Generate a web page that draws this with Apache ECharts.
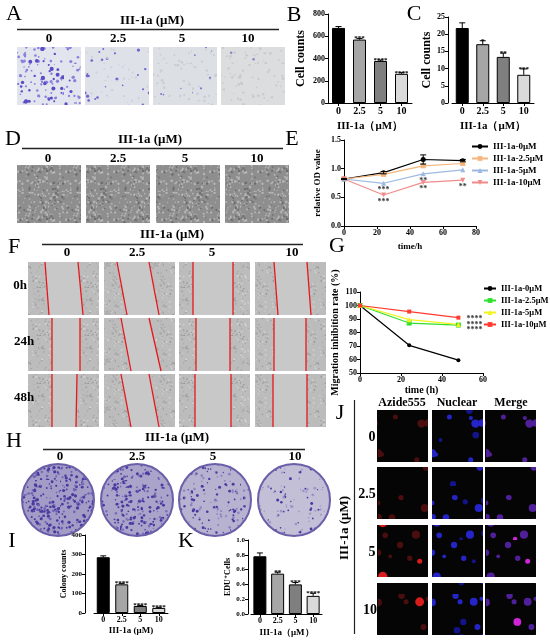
<!DOCTYPE html>
<html>
<head>
<meta charset="utf-8">
<script src="https://cdn.jsdelivr.net/npm/echarts@6/dist/echarts.min.js"></script>
<style>
  html, body { margin: 0; padding: 0; background: #fff; }
  #fig { width: 550px; height: 640px; }
</style>
</head>
<body>
<div id="fig"></div>
<script>
// values
const doses = ['0', '2.5', '5', '10'];
const cellsB = [675, 570, 378, 262];
const errB = [12, 9, 8, 10];
const starsB = ['', '***', '****', '****'];
const cellsC = [21.8, 17.1, 13.4, 8.2];
const errC = [1.5, 1.0, 1.1, 1.7];
const starsC = ['', '*', '**', '***'];

const timeE = [0, 24, 48, 72];
const odE0 = [0.82, 0.93, 1.16, 1.14];
const odE25 = [0.82, 0.90, 1.05, 1.09];
const odE5 = [0.82, 0.745, 0.91, 0.98];
const odE10 = [0.82, 0.54, 0.76, 0.80];
const errE0 = [0.01, 0.02, 0.08, 0.02];
const starsE5 = ['', '***', '**', ''];
const starsE10 = ['', '***', '**', '**'];
const legendE = ['III-1a-0μM', 'III-1a-2.5μM', 'III-1a-5μM', 'III-1a-10μM'];

const timeG = [0, 24, 48];
const migG0 = [100, 70.5, 59.5];
const migG25 = [100, 87, 85.5];
const migG5 = [100, 89.5, 86];
const migG10 = [100, 95.5, 91];
const starsG = ['****', '****', '****'];
const starsGAt = [91, 86.5, 83];
// trailing space keeps the G legend apart from the E legend
const legendG = ['III-1a-0μM ', 'III-1a-2.5μM ', 'III-1a-5μM ', 'III-1a-10μM '];

const colonyI = [286, 147, 36, 26];
const errI = [7, 5, 3, 3];
const starsI = ['', '****', '****', '****'];
const eduK = [0.78, 0.545, 0.40, 0.245];
const errK = [0.045, 0.02, 0.025, 0.035];
const starsK = ['', '**', '***', '****'];

const serif = '"Liberation Serif","DejaVu Serif",serif';
const barFill = ['#000000', '#a6a6a6', '#7f7f7f', '#dadada'];
const colE = ['#000000', '#f5b57c', '#9db8e2', '#f28b8b'];
const colG = ['#000000', '#2fe02f', '#f2f21e', '#ff3b30'];

// little textures standing in for the photos
function tile(size, bg, seed, dots) {
  const c = document.createElement('canvas');
  c.width = c.height = size;
  const g = c.getContext('2d');
  g.fillStyle = bg;
  g.fillRect(0, 0, size, size);
  let s = seed;
  const next = () => (s = (s * 16807) % 2147483647) / 2147483647;
  for (const [col, n, r] of dots) {
    g.fillStyle = col;
    for (let i = 0; i < n; i++) {
      g.beginPath();
      g.arc(next() * size, next() * size, r * (0.6 + next() * 0.8), 0, Math.PI * 2);
      g.fill();
    }
  }
  return { image: c, repeat: 'repeat' };
}

const T = (x, y, text, size, o = {}) => ({
  type: 'text', x, y, rotation: o.rot || 0, z: 10,
  style: { text, font: `${o.w || 'bold'} ${size}px ${serif}`, fill: o.fill || '#000',
    align: o.align || 'center', verticalAlign: 'middle' }
});
const L = (x1, y1, x2, y2, stroke = '#000', w = 1) => ({
  type: 'line', z: 10, shape: { x1, y1, x2, y2 }, style: { stroke, lineWidth: w }
});
const R = (x, y, w, h, fill) => ({ type: 'rect', shape: { x, y, width: w, height: h }, style: { fill } });

const deco = [];
// panel letters
[['A', 14, 14], ['B', 294, 15], ['C', 414, 14], ['D', 13, 139], ['E', 292, 139], ['F', 14, 247],
 ['G', 337, 246], ['H', 14, 441], ['I', 12, 541], ['K', 186, 541], ['J', 340, 413]]
  .forEach(([t, x, y]) => deco.push(T(x, y, t, 22, { w: 'normal' })));

// A: transwell photos
const pA = [
  tile(64, '#e2e4ee', 3, [['#8a80dc', 90, 1.2], ['#5a4cc4', 30, 1.6]]),
  tile(64, '#dfe1e9', 5, [['#7066d0', 26, 1.2], ['#cfd2dc', 40, 1]]),
  tile(64, '#dcdfe4', 11, [['#7a74d0', 9, 1.0], ['#c9ccd3', 60, 1]]),
  tile(64, '#dbdddf', 13, [['#8a86c8', 3, 1], ['#c8cacc', 80, 1]])
];
deco.push(T(152, 21, 'III-1a (μM)', 13), L(17, 29.5, 279, 29.5, '#222', 1.4));
[[49, 17], [118, 85], [182, 153], [248, 221]].forEach(([lx, ix], i) => {
  deco.push(T(lx, 39, doses[i], 13), R(ix, 47, 64, 58, pA[i]));
});

// D: monolayer photos
const pD = tile(48, '#8e8e8e', 17, [['#b4b4b4', 130, 1], ['#6c6c6c', 70, 0.9]]);
deco.push(T(150, 140, 'III-1a (μM)', 13), L(22, 148.5, 283, 148.5, '#222', 1.4));
[[48, 17], [118, 86], [185, 156], [257, 225]].forEach(([lx, ix], i) => {
  deco.push(T(lx, 159, doses[i], 13), R(ix, 165, 64, 58, pD));
});

// F: scratch wound photos with red wound edges
const pF = tile(48, '#bcbcbc', 19, [['#a2a2a2', 110, 0.7], ['#d2d2d2', 70, 0.7], ['#8a8a8a', 20, 0.6]]);
deco.push(T(172, 235, 'III-1a (μM)', 13), L(42, 244.5, 303, 244.5, '#222', 1.4));
const colF = [28, 104, 179, 255];
const rowF = [262, 318, 374];
[67, 137, 212, 292].forEach((x, i) => deco.push(T(x, 253, doses[i], 13)));
[['0h', 20], ['24h', 24], ['48h', 24]].forEach(([t, x], r) => deco.push(T(x, rowF[r] + 24, t, 13)));
const edges = [
  [[45, 49, 78, 83], [117, 127, 149, 159], [193, 193, 233, 233], [274, 278, 307, 311]],
  [[52, 52, 80, 80], [121, 131, 149, 161], [196, 196, 230, 230], [274, 274, 306, 306]],
  [[52, 52, 77, 76], [121, 131, 149, 159], [195, 195, 231, 231], [273, 273, 307, 307]]
];
rowF.forEach((y, r) => colF.forEach((x, c) => {
  const [a, b, d, e] = edges[r][c];
  deco.push(R(x, y, 71, 53, pF));
  deco.push({ type: 'polygon', shape: { points: [[a, y], [d, y], [e, y + 53], [b, y + 53]] },
    style: { fill: '#c8c8c8' } });
  deco.push(L(a, y, b, y + 53, '#e8161b', 1.3), L(d, y, e, y + 53, '#e8161b', 1.3));
}));

// H: colony plates
const pH = [
  tile(60, '#a39cc6', 23, [['#4a3aa0', 150, 1.2], ['#6f62b4', 80, 1]]),
  tile(60, '#aaa4ca', 29, [['#4a3aa0', 130, 1.2], ['#7a6eb8', 60, 1]]),
  tile(60, '#b6b2d0', 31, [['#4a3aa0', 60, 1.1], ['#8c84c0', 50, 1]]),
  tile(60, '#c2bfd6', 37, [['#4a3aa0', 32, 1.1], ['#9c95c8', 40, 1]])
];
deco.push(T(177, 438, 'III-1a (μM)', 13), L(43, 449.5, 305, 449.5, '#222', 1.4));
[[60, 58], [137, 137], [213, 215], [295, 294]].forEach(([lx, cx], i) => {
  deco.push(T(lx, 457, doses[i], 13));
  deco.push({ type: 'circle', shape: { cx, cy: 500, r: 36 },
    style: { fill: pH[i], stroke: '#6a5fa8', lineWidth: 2 } });
});

// J: fluorescence photos
deco.push(L(354.5, 400, 354.5, 634, '#222', 1.2));
deco.push(T(345, 528, 'III-1a (μM)', 13, { rot: Math.PI / 2 }));
[['Azide555', 402], ['Nuclear', 457], ['Merge', 511]].forEach(([t, x]) => deco.push(T(x, 403, t, 12)));
const colJ = [377, 432, 485];
const rowJ = [410, 467, 525, 583];
const jx = [372, 367, 372, 370];
rowJ.forEach((y, r) => {
  deco.push(T(jx[r], y + 27, doses[r], 14));
  const seed = 41 + r * 7;
  const bright = [0, 0, 2, 1][r];
  const pats = [
    tile(54, '#050505', seed, [['#4a0e0e', 6, 3], ['#d81c1c', bright, 3.4]]),
    tile(54, '#050505', seed, [['#2424c8', 7, 3], ['#14148a', 3, 2.8]]),
    tile(54, '#050505', seed, [['#50209a', 7, 3], ['#d024d8', bright, 3.4]])
  ];
  colJ.forEach((x, c) => deco.push(R(x, y, 51, 52, pats[c])));
});

// helpers for the charts
const axLine = { show: true, lineStyle: { color: '#000', width: 1 } };
const tick = { show: true, length: 3, lineStyle: { color: '#000' } };
const lab8 = (sz, fmt) => ({ fontSize: sz, fontFamily: serif, fontWeight: 'bold', color: '#000', margin: 3, formatter: fmt });
function catX(grid, name, nameGap, labSize, nameSize) {
  return { type: 'category', gridIndex: grid, data: doses, axisLine: axLine,
    axisTick: Object.assign({ alignWithLabel: true }, tick), axisLabel: lab8(labSize),
    name, nameLocation: 'middle', nameGap,
    nameTextStyle: { fontSize: nameSize, fontFamily: serif, fontWeight: 'bold', color: '#000' } };
}
function valAx(grid, min, max, interval, name, nameGap, labSize, nameSize, extra) {
  return Object.assign({ type: 'value', gridIndex: grid, min, max, interval,
    axisLine: axLine, axisTick: tick, splitLine: { show: false }, axisLabel: lab8(labSize),
    name, nameLocation: 'middle', nameGap,
    nameTextStyle: { fontSize: nameSize, fontFamily: serif, fontWeight: 'bold', color: '#000' } }, extra || {});
}
function bars(ax, vals) {
  return { type: 'bar', xAxisIndex: ax, yAxisIndex: ax, data: vals, barWidth: 13,
    itemStyle: { color: p => barFill[p.dataIndex], borderColor: '#000', borderWidth: 1 } };
}
function errStars(ax, vals, errs, stars, fs) {
  return {
    type: 'custom', xAxisIndex: ax, yAxisIndex: ax, z: 5, silent: true,
    data: vals.map((v, i) => [i, v, errs[i]]),
    renderItem(params, api) {
      const i = api.value(0), v = api.value(1), e = api.value(2);
      const a = api.coord([i, v]), b = api.coord([i, v + e]);
      return { type: 'group', children: [
        { type: 'line', shape: { x1: a[0], y1: a[1], x2: b[0], y2: b[1] }, style: { stroke: '#000', lineWidth: 1 } },
        { type: 'line', shape: { x1: b[0] - 3, y1: b[1], x2: b[0] + 3, y2: b[1] }, style: { stroke: '#000', lineWidth: 1 } },
        { type: 'text', x: b[0], y: b[1], style: { text: stars[params.dataIndex], font: `bold ${fs}px ${serif}`,
          fill: '#000', align: 'center', verticalAlign: 'middle' } }
      ] };
    }
  };
}
function lineSeries(ax, name, xs, ys, color, symbol, size, rot) {
  return { type: 'line', name, xAxisIndex: ax, yAxisIndex: ax, data: xs.map((t, i) => [t, ys[i]]),
    symbol, symbolSize: size, symbolRotate: rot || 0, color,
    lineStyle: { color, width: 1.2 }, itemStyle: { color } };
}
function starText(ax, xs, ys, stars, dx, dy, align) {
  return {
    type: 'custom', xAxisIndex: ax, yAxisIndex: ax, z: 6, silent: true,
    data: xs.map((t, i) => [t, ys[i]]),
    renderItem(params, api) {
      const p = api.coord([api.value(0), api.value(1)]);
      return { type: 'text', x: p[0] + dx, y: p[1] + dy, style: { text: stars[params.dataIndex],
        font: `bold 8px ${serif}`, fill: '#333', align, verticalAlign: 'middle' } };
    }
  };
}

const chart = echarts.init(document.getElementById('fig'), null, { renderer: 'canvas' });
chart.setOption({
  backgroundColor: '#fff',
  animation: false,
  textStyle: { fontFamily: serif },
  grid: [
    { left: 328, top: 14, width: 84, height: 89, containLabel: false },
    { left: 452, top: 17, width: 82, height: 86, containLabel: false },
    { left: 344, top: 140, width: 132, height: 86, containLabel: false },
    { left: 360, top: 292, width: 123, height: 81, containLabel: false },
    { left: 94, top: 535, width: 74, height: 78, containLabel: false },
    { left: 251, top: 540, width: 71, height: 74, containLabel: false }
  ],
  xAxis: [
    catX(0, 'III-1a（μM）', 18, 10, 11),
    catX(1, 'III-1a（μM）', 18, 10, 11),
    valAx(2, 0, 80, 20, 'time/h', 16, 8, 9),
    valAx(3, 0, 60, 20, 'time (h)', 12, 8, 10),
    catX(4, 'III-1a (μM)', 13, 8, 9),
    catX(5, 'III-1a（μM）', 14, 8, 9)
  ],
  yAxis: [
    valAx(0, 0, 800, 200, 'Cell counts', 21, 8, 12),
    valAx(1, 0, 25, 5, 'Cell counts', 14, 8, 12, { offset: 4 }),
    valAx(2, 0, 1.5, 0.5, 'relative OD value', 22, 8, 9, { axisLabel: lab8(8, v => v.toFixed(1)) }),
    valAx(3, 50, 110, 10, 'Migration inhibition rate (%)', 20, 8, 10),
    valAx(4, 0, 400, 100, 'Colony counts', 10, 7, 8, { offset: 9 }),
    valAx(5, 0, 1, 0.2, 'EDU⁺Cells', 14, 7, 8, { offset: 3, axisLabel: lab8(7, v => v.toFixed(1)) })
  ],
  legend: [
    { data: legendE, orient: 'vertical', left: 466, top: 137, itemGap: 3, itemWidth: 16, itemHeight: 6,
      textStyle: { fontSize: 9, fontWeight: 'bold', fontFamily: serif, color: '#000' } },
    { data: legendG, orient: 'vertical', left: 478, top: 279, itemGap: 3, itemWidth: 12, itemHeight: 6,
      textStyle: { fontSize: 8.5, fontWeight: 'bold', fontFamily: serif, color: '#000' } }
  ],
  series: [
    bars(0, cellsB), errStars(0, cellsB, errB, starsB, 7),
    bars(1, cellsC), errStars(1, cellsC, errC, starsC, 7),
    bars(4, colonyI), errStars(4, colonyI, errI, starsI, 7),
    bars(5, eduK), errStars(5, eduK, errK, starsK, 7),

    lineSeries(2, legendE[0], timeE, odE0, colE[0], 'circle', 5),
    lineSeries(2, legendE[1], timeE, odE25, colE[1], 'rect', 5),
    lineSeries(2, legendE[2], timeE, odE5, colE[2], 'triangle', 5),
    lineSeries(2, legendE[3], timeE, odE10, colE[3], 'triangle', 5, 180),
    {
      type: 'custom', xAxisIndex: 2, yAxisIndex: 2, z: 4, silent: true,
      data: timeE.map((t, i) => [t, odE0[i], errE0[i]]),
      renderItem(params, api) {
        const t = api.value(0), v = api.value(1), e = api.value(2);
        const a = api.coord([t, v - e]), b = api.coord([t, v + e]);
        return { type: 'group', children: [
          { type: 'line', shape: { x1: a[0], y1: a[1], x2: b[0], y2: b[1] }, style: { stroke: '#000', lineWidth: 1 } },
          { type: 'line', shape: { x1: b[0] - 3, y1: b[1], x2: b[0] + 3, y2: b[1] }, style: { stroke: '#000', lineWidth: 1 } },
          { type: 'line', shape: { x1: a[0] - 3, y1: a[1], x2: a[0] + 3, y2: a[1] }, style: { stroke: '#000', lineWidth: 1 } }
        ] };
      }
    },
    starText(2, timeE, odE5, starsE5, 0, 7, 'center'),
    starText(2, timeE, odE10, starsE10, 0, 7, 'center'),

    lineSeries(3, legendG[0], timeG, migG0, colG[0], 'circle', 4),
    lineSeries(3, legendG[1], timeG, migG25, colG[1], 'rect', 5),
    lineSeries(3, legendG[2], timeG, migG5, colG[2], 'triangle', 5),
    lineSeries(3, legendG[3], timeG, migG10, colG[3], 'rect', 4),
    starText(3, starsGAt.map(() => timeG[2]), starsGAt, starsG, 8, 1, 'left')
  ],
  graphic: { elements: deco }
});
</script>
</body>
</html>
